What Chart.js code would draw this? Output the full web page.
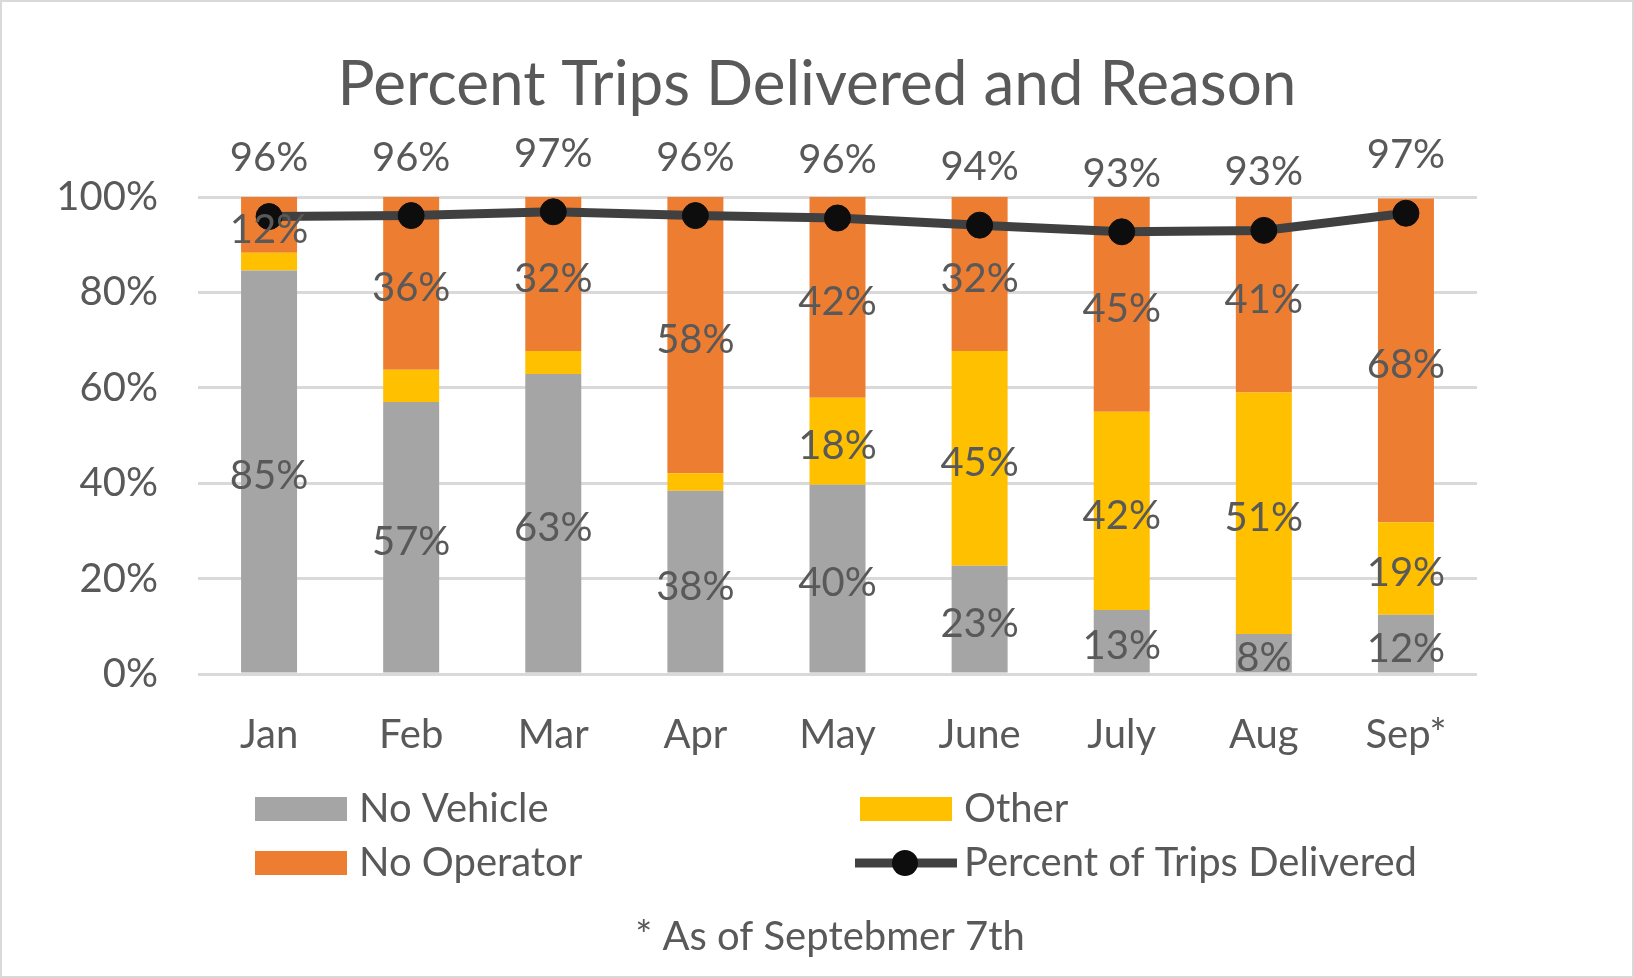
<!DOCTYPE html>
<html lang="en">
<head>
  <meta charset="UTF-8"/>
  <title>Percent Trips Delivered and Reason</title>
  <script src="https://cdn.jsdelivr.net/npm/chart.js@4"></script>
  <style>
    * { box-sizing: border-box; margin: 0; padding: 0; }
    body { background: #fff; }
    #wrap { width: 1634px; height: 978px; }
  </style>
</head>
<body>
<div id="wrap"><canvas id="chart" width="1634" height="978"></canvas></div>

<script>
  // data
  const months     = ['Jan', 'Feb', 'Mar', 'Apr', 'May', 'June', 'July', 'Aug', 'Sep*'];
  const noVehicle  = [84.6, 57.0, 62.9, 38.4, 39.7, 22.7, 13.4, 8.4, 12.4];
  const other      = [3.7, 6.8, 4.8, 3.7, 18.2, 45.0, 41.6, 50.6, 19.4];
  const noOperator = [11.8, 36.2, 32.3, 57.9, 42.1, 32.3, 45.0, 41.0, 67.9];
  const delivered  = [95.9, 96.1, 96.9, 96.1, 95.6, 94.1, 92.7, 93.0, 96.6];
  const otherLabelShown = [false, false, false, false, true, true, true, true, true];
  const yTicks     = [0, 20, 40, 60, 80, 100];
  const titleText  = 'Percent Trips Delivered and Reason';
  const footnote   = '* As of Septebmer 7th';

  const FONT  = 'Lato, "Open Sans", sans-serif';
  const TEXT  = '#595959';
  const GREY  = '#a5a5a5';
  const GOLD  = '#ffc000';
  const ORNG  = '#ed7d31';
  const LINE  = '#404040';

  // white background, thin border and the title centred on the whole canvas
  const frame = {
    id: 'frame',
    beforeDraw(chart) {
      const { ctx, width, height } = chart;
      ctx.save();
      ctx.fillStyle = '#fff';
      ctx.fillRect(0, 0, width, height);
      ctx.strokeStyle = '#d9d9d9';
      ctx.lineWidth = 2;
      ctx.strokeRect(1, 1, width - 2, height - 2);
      ctx.fillStyle = TEXT;
      ctx.font = '62px ' + FONT;
      ctx.textAlign = 'center';
      ctx.textBaseline = 'middle';
      ctx.fillText(titleText, width / 2, 85);
      ctx.restore();
    }
  };

  const valueLabels = {
    id: 'valueLabels',
    afterDatasetsDraw(chart) {
      const ctx = chart.ctx;
      ctx.save();
      ctx.font = '40px ' + FONT;
      ctx.fillStyle = TEXT;
      ctx.textAlign = 'center';
      ctx.textBaseline = 'middle';
      chart.data.datasets.forEach((ds, i) => {
        const meta = chart.getDatasetMeta(i);
        meta.data.forEach((el, j) => {
          const v = ds.data[j];
          if (ds.type === 'line') {
            ctx.fillText(Math.round(v) + '%', el.x, el.y - 58);
          } else {
            if (ds.label === 'Other' && !otherLabelShown[j]) return;
            const p = el.getProps(['x', 'y', 'base'], true);
            ctx.fillText(Math.round(v) + '%', p.x, (p.y + p.base) / 2 + 5);
          }
        });
      });
      ctx.restore();
    }
  };

  const legendAndNote = {
    id: 'legendAndNote',
    afterDraw(chart) {
      const ctx = chart.ctx;
      const cols = [255, 860];
      const rows = [809, 863];
      const order = ['No Vehicle', 'Other', 'No Operator', 'Percent of Trips Delivered'];
      ctx.save();
      ctx.font = '40px ' + FONT;
      ctx.textBaseline = 'middle';
      ctx.textAlign = 'left';
      order.forEach((name, k) => {
        const ds = chart.data.datasets.find(d => d.label === name);
        const x = cols[k % 2], y = rows[Math.floor(k / 2)];
        if (ds.type === 'line') {
          ctx.strokeStyle = ds.borderColor;
          ctx.lineWidth = ds.borderWidth;
          ctx.beginPath();
          ctx.moveTo(x - 5, y);
          ctx.lineTo(x + 97, y);
          ctx.stroke();
          ctx.fillStyle = ds.pointBackgroundColor;
          ctx.beginPath();
          ctx.arc(x + 45, y, ds.pointRadius, 0, Math.PI * 2);
          ctx.fill();
        } else {
          ctx.fillStyle = ds.backgroundColor;
          ctx.fillRect(x, y - 12, 92, 24);
        }
        ctx.fillStyle = TEXT;
        ctx.fillText(name, x + 104, y);
      });
      ctx.textAlign = 'center';
      ctx.font = '40px ' + FONT;
      ctx.fillText(footnote, 830, 937);
      ctx.restore();
    }
  };

  new Chart(document.getElementById('chart'), {
    data: {
      labels: months,
      datasets: [
        { type: 'line', label: 'Percent of Trips Delivered', data: delivered, order: 0,
          borderColor: LINE, borderWidth: 9, pointRadius: 13, pointHoverRadius: 13,
          pointBackgroundColor: '#0d0d0d', pointBorderColor: '#0d0d0d', pointBorderWidth: 1,
          tension: 0 },
        { type: 'bar', label: 'No Vehicle', data: noVehicle, backgroundColor: GREY, order: 1 },
        { type: 'bar', label: 'Other', data: other, backgroundColor: GOLD, order: 1 },
        { type: 'bar', label: 'No Operator', data: noOperator, backgroundColor: ORNG, order: 1 }
      ]
    },
    options: {
      responsive: false,
      animation: false,
      events: [],
      datasets: { bar: { categoryPercentage: 0.394, barPercentage: 1 } },
      layout: { padding: { left: 0, right: 157, top: 197, bottom: 0 } },
      plugins: {
        legend: { display: false },
        tooltip: { enabled: false },
        title: { display: false }
      },
      scales: {
        x: {
          stacked: true,
          grid: { display: false, drawTicks: false },
          border: { display: false },
          ticks: { color: TEXT, font: { family: FONT, size: 40 }, padding: 37 },
          afterFit: s => { s.height = 304; }
        },
        y: {
          stacked: true,
          min: 0, max: 100,
          afterBuildTicks: s => { s.ticks = yTicks.map(v => ({ value: v })); },
          grid: { color: '#d9d9d9', lineWidth: 3, drawTicks: false },
          border: { display: false },
          ticks: { color: TEXT, font: { family: FONT, size: 40 }, padding: 40, callback: v => v + '%' },
          afterFit: s => { s.width = 198; }
        }
      }
    },
    plugins: [frame, valueLabels, legendAndNote]
  });
</script>
</body>
</html>
